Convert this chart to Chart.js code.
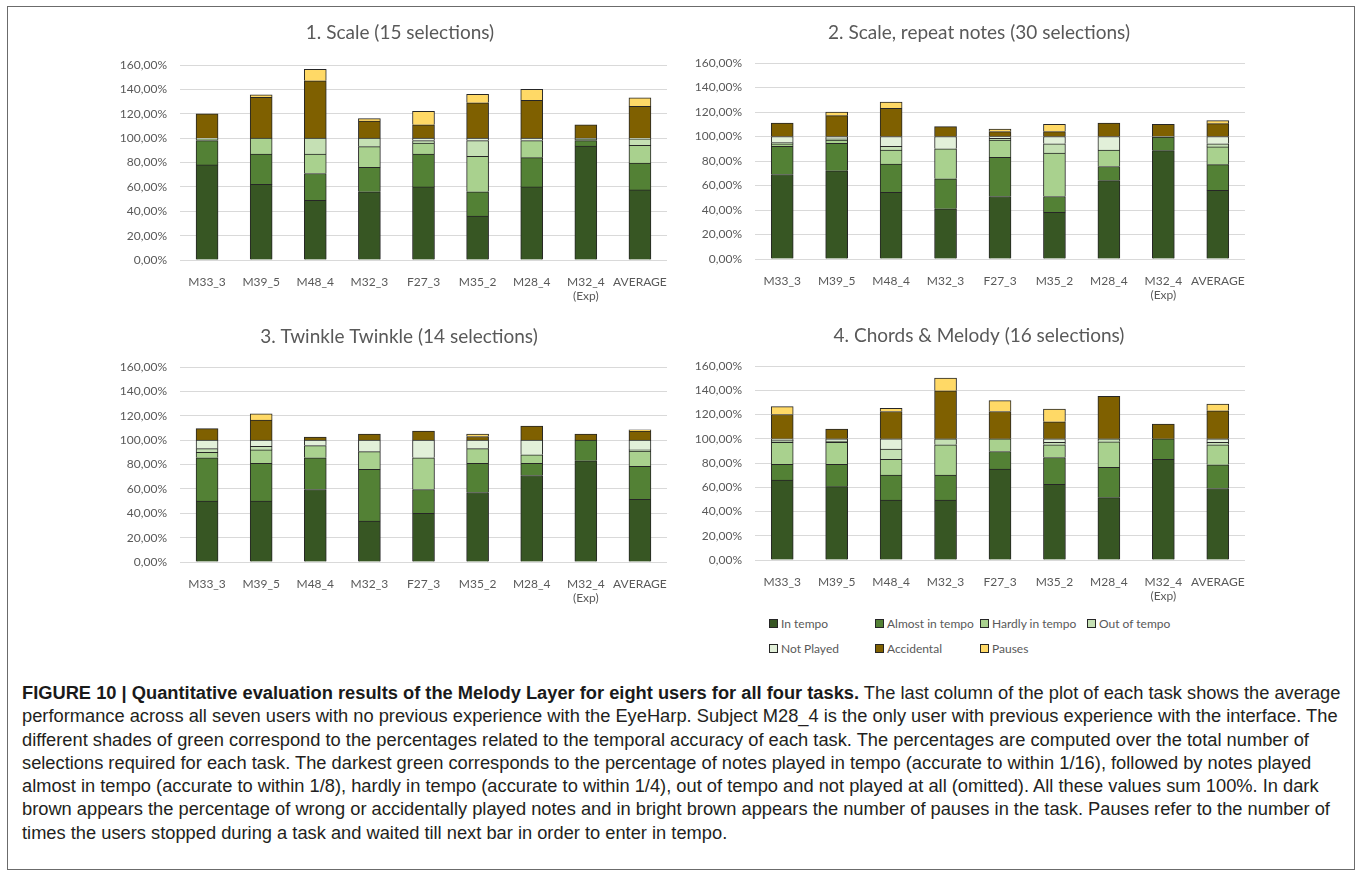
<!DOCTYPE html>
<html>
<head>
<meta charset="utf-8">
<script src="https://cdn.jsdelivr.net/npm/chart.js@4.4.1/dist/chart.umd.min.js"></script>
<style>
  html, body { margin: 0; padding: 0; background: #fff; }
  body { width: 1363px; height: 879px; position: relative; overflow: hidden; }
  #frame { position: absolute; left: 7px; top: 6px; width: 1348px; height: 864px; border: 1.5px solid #6b6b6b; box-sizing: border-box; }
  canvas { position: absolute; }
  #legend { position: absolute; left: 0; top: 0; font: 12px Lato, "Open Sans", sans-serif; color: #595959; }
  .lg { position: absolute; white-space: nowrap; line-height: 16px; }
  .lg i { display: inline-block; width: 7px; height: 7px; border: 1px solid #262626; margin-right: 3px; vertical-align: 0; }
  #caption { position: absolute; left: 22px; top: 681px; font-family: "Liberation Sans Narrow", "Liberation Sans", Arial, sans-serif; font-size: 18.3px; line-height: 23.3px; color: #231f20; }
  #caption div { white-space: nowrap; }
  #caption b { font-weight: bold; color: #1a1a1a; }
</style>
</head>
<body>
<div id="frame"></div>
<canvas id="c1"></canvas>
<canvas id="c2"></canvas>
<canvas id="c3"></canvas>
<canvas id="c4"></canvas>
<div id="legend"></div>
<div id="caption">
  <div><b>FIGURE 10 | Quantitative evaluation results of the Melody Layer for eight users for all four tasks.</b> The last column of the plot of each task shows the average</div>
  <div>performance across all seven users with no previous experience with the EyeHarp. Subject M28_4 is the only user with previous experience with the interface. The</div>
  <div>different shades of green correspond to the percentages related to the temporal accuracy of each task. The percentages are computed over the total number of</div>
  <div>selections required for each task. The darkest green corresponds to the percentage of notes played in tempo (accurate to within 1/16), followed by notes played</div>
  <div>almost in tempo (accurate to within 1/8), hardly in tempo (accurate to within 1/4), out of tempo and not played at all (omitted). All these values sum 100%. In dark</div>
  <div>brown appears the percentage of wrong or accidentally played notes and in bright brown appears the number of pauses in the task. Pauses refer to the number of</div>
  <div>times the users stopped during a task and waited till next bar in order to enter in tempo.</div>
</div>
<script>
"use strict";

const $ = id => document.getElementById(id);

// ── Data
const categories = ["M33_3", "M39_5", "M48_4", "M32_3", "F27_3", "M35_2", "M28_4", ["M32_4", "(Exp)"], "AVERAGE"];
const seriesNames = ["In tempo", "Almost in tempo", "Hardly in tempo", "Out of tempo", "Not Played", "Accidental", "Pauses"];
const seriesColors = ["#375623", "#538135", "#a9d18e", "#c5e0b4", "#e2f0d9", "#7f6000", "#ffd966"];
const yMax = 160, yStep = 20;

const titles = ["1. Scale (15 selections)", "2. Scale, repeat notes (30 selections)", "3. Twinkle Twinkle (14 selections)", "4. Chords & Melody (16 selections)"];

// rows follow seriesNames, columns follow categories
const task1 = [
  [78, 62, 49, 56, 60, 36, 60, 93.5, 57.5],
  [20, 25, 22, 20, 27, 20, 24, 4.5, 22],
  [1.5, 13, 16, 17, 9, 29, 14, 1, 14.5],
  [0, 0, 13, 7, 2, 13, 0, 0, 5.5],
  [0.5, 0, 0, 0, 2, 2, 2, 1, 0.5],
  [20, 33.5, 47, 14, 11, 29, 31, 11, 26],
  [0, 2, 9.5, 2, 11, 7, 9, 0, 7],
];
const task2 = [
  [69, 72, 54.5, 41, 51, 38, 64, 88.5, 56],
  [23, 22.5, 23, 24.5, 32, 13, 11.5, 11, 21],
  [2, 2.5, 11.5, 24.5, 14, 35.5, 13.5, 0, 14.5],
  [1, 1, 3, 0, 1.5, 7.5, 0, 0, 2.5],
  [5, 2, 8, 10, 1.5, 6, 11, 0.5, 6],
  [11, 17, 23, 8, 4, 4, 11, 10, 10.5],
  [0, 3, 5, 0, 2, 6, 0, 0, 2.5],
];
const task3 = [
  [50, 50, 59.5, 33.5, 40, 57, 71, 83, 51.5],
  [35.5, 31, 26, 42.5, 19.5, 24, 10, 17, 27],
  [4.5, 11, 10, 14.5, 26, 12, 7, 0, 12.5],
  [3, 3, 0, 0, 0, 0, 0, 0, 1],
  [7, 5, 4.5, 9.5, 14.5, 7, 12, 0, 8],
  [9.5, 16.5, 2.5, 5, 7.5, 3, 11.5, 5, 7.5],
  [0, 5, 0, 0, 0, 2, 0, 0, 1],
];
const task4 = [
  [66, 60.5, 49.5, 49.5, 75, 62.5, 51.5, 83, 59],
  [13, 18.5, 20.5, 20.5, 14.5, 22, 25, 17, 19.5],
  [18, 18, 13, 25, 10.5, 10.5, 21, 0, 16.5],
  [1.5, 1, 8.5, 5, 0, 2, 2.5, 0, 2],
  [1.5, 2, 8.5, 0, 0, 3, 0, 0, 3],
  [20, 8, 22.5, 39.5, 22.5, 14, 35, 12, 23],
  [6.5, 0, 2.5, 10.5, 9, 10.5, 0, 0, 5.5],
];

// ── Layout (page px): canvas box, plot box, title centre
const boxes = [
  { id: "c1", cx: 100, cy: 12,  cw: 580, ch: 300, pl: 180, pr: 667,  pt: 65,  pb: 260, tx: 400, ty: 33 },
  { id: "c2", cx: 680, cy: 12,  cw: 620, ch: 300, pl: 755, pr: 1245, pt: 63,  pb: 259, tx: 979, ty: 33 },
  { id: "c3", cx: 100, cy: 316, cw: 580, ch: 300, pl: 180, pr: 667,  pt: 367, pb: 562, tx: 399, ty: 337 },
  { id: "c4", cx: 680, cy: 316, cw: 620, ch: 300, pl: 755, pr: 1245, pt: 366, pb: 560, tx: 979, ty: 336 },
];

const FONT = "Lato, 'Open Sans', sans-serif";
const pct = v => v.toFixed(2).replace(".", ",") + "%";

// title drawn at a set centre (Excel centres it on the whole chart object)
const panelTitle = {
  id: "panelTitle",
  afterDraw(chart, args, o) {
    const ctx = chart.ctx;
    ctx.save();
    ctx.font = `${o.size}px ${FONT}`;
    ctx.fillStyle = o.color;
    ctx.textAlign = "center";
    ctx.textBaseline = "middle";
    ctx.fillText(o.text, o.x, o.y);
    ctx.restore();
  },
};

function makeChart(b, title, rows) {
  const cv = $(b.id);
  cv.style.left = b.cx + "px"; cv.style.top = b.cy + "px";
  cv.style.width = b.cw + "px"; cv.style.height = b.ch + "px";
  cv.width = b.cw; cv.height = b.ch;

  return new Chart(cv.getContext("2d"), {
    type: "bar",
    data: {
      labels: categories,
      datasets: rows.map((r, i) => ({
        label: seriesNames[i], data: r,
        backgroundColor: seriesColors[i], borderColor: "#262626", borderWidth: 1,
        barThickness: 22,
      })),
    },
    plugins: [panelTitle],
    options: {
      responsive: false, animation: false,
      layout: { padding: { left: 0, right: b.cx + b.cw - b.pr, top: b.pt - b.cy, bottom: 0 } },
      plugins: {
        legend: { display: false }, tooltip: { enabled: false }, title: { display: false },
        panelTitle: { text: title, x: b.tx - b.cx, y: b.ty - b.cy, size: 19, color: "#595959" },
      },
      scales: {
        x: {
          stacked: true,
          grid: { display: false }, border: { display: false },
          ticks: { color: "#595959", font: { size: 12, family: FONT }, maxRotation: 0, autoSkip: false, padding: 7 },
          afterFit: s => { s.height = b.cy + b.ch - b.pb; },
        },
        y: {
          stacked: true, min: 0, max: yMax,
          grid: { color: "#d9d9d9", lineWidth: 1, drawTicks: false }, border: { display: false },
          ticks: { stepSize: yStep, color: "#595959", font: { size: 12, family: FONT }, padding: 13, callback: v => pct(v) },
          afterFit: s => { s.width = b.pl - b.cx; },
        },
      },
    },
  });
}

[task1, task2, task3, task4].forEach((rows, i) => makeChart(boxes[i], titles[i], rows));

// ── Legend (under chart 4)
const legendCols = [769, 875, 980, 1087];
const legendRows = [624, 649];
seriesNames.forEach((name, i) => {
  const el = document.createElement("div");
  el.className = "lg";
  el.style.left = legendCols[i < 4 ? i : i - 4] + "px";
  el.style.top = (legendRows[i < 4 ? 0 : 1] - 8) + "px";
  el.innerHTML = `<i style="background:${seriesColors[i]}"></i>${name}`;
  $("legend").appendChild(el);
});
</script>
</body>
</html>
